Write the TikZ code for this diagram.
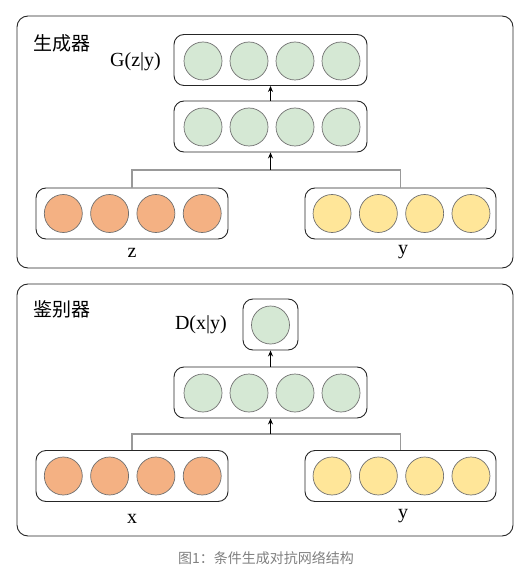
\documentclass[tikz,border=0pt]{standalone}
\usepackage{fontspec}
\setmainfont{Liberation Serif}
\newfontfamily\cjk{Noto Sans CJK SC}
\usetikzlibrary{arrows.meta}
\definecolor{gfill}{HTML}{D5E8D4}
\definecolor{ofill}{HTML}{F4B183}
\definecolor{yfill}{HTML}{FFE699}
\definecolor{cedge}{HTML}{707070}
\definecolor{capcol}{HTML}{808080}
\tikzset{
  outerbox/.style={draw=black!85, line width=0.9pt, rounded corners=11pt, minimum width=496pt, minimum height=252pt, inner sep=0pt},
  layerbox/.style={draw=black!85, line width=0.9pt, rounded corners=10pt, minimum height=51pt, inner sep=0pt},
  neuron/.style={circle, draw=cedge, line width=0.7pt, minimum size=38pt, inner sep=0pt},
  lbl/.style={font=\fontsize{20}{22}\selectfont, inner sep=0pt},
  ttl/.style={font=\cjk\fontsize{19}{21}\selectfont, inner sep=0pt, anchor=west},
  joinline/.style={draw=black!40, line width=1.2pt},
  arr/.style={draw=black, line width=0.9pt, -{Stealth[length=6pt,width=5pt]}},
}
\begin{document}
\begin{tikzpicture}[x=1pt,y=-1pt]
\useasboundingbox (0,0) rectangle (522,577);
% ---------- generator ----------
\node[outerbox] (genbox) at (265,142) {};
\node[ttl] (gentitle) at (33,43) {生成器};
\node[layerbox, minimum width=193pt] (gtop) at (270.5,60) {};
\node[layerbox, minimum width=193pt] (gmid) at (270.5,126.5) {};
\node[layerbox, minimum width=192pt] (gz) at (132,213.5) {};
\node[layerbox, minimum width=191pt] (gy) at (400.5,213.5) {};
\foreach \i in {1,...,4}{
  \node[neuron, fill=gfill] (gtop\i) at ({272+(\i-2.5)*46},61) {};
  \node[neuron, fill=gfill] (gmid\i) at ({272+(\i-2.5)*46},127) {};
  \node[neuron, fill=ofill] (gz\i) at ({132.75+(\i-2.5)*46.3},213.5) {};
  \node[neuron, fill=yfill] (gy\i) at ({401.5+(\i-2.5)*46.3},213.5) {};
}
\node[lbl, anchor=east] (glabel) at (161,62) {G(z|y)};
\node[lbl] (zlabel) at (132,253) {z};
\node[lbl] (ylabel1) at (403,252) {y};
\coordinate (gj) at (270.5,170);
\draw[joinline] (gz.north) |- (gj) -| (gy.north);
\draw[arr] (gj) -- (gmid.south);
\draw[arr] (gmid.north) -- (gtop.south);
% ---------- discriminator ----------
\node[outerbox] (disbox) at (265,410) {};
\node[ttl] (distitle) at (33,309) {鉴别器};
\node[layerbox, minimum width=55pt] (dtop) at (270.5,324.5) {};
\node[layerbox, minimum width=193pt] (dmid) at (270.5,392.5) {};
\node[layerbox, minimum width=192pt] (dx) at (132,476) {};
\node[layerbox, minimum width=191pt] (dy) at (400.5,476) {};
\node[neuron, fill=gfill] (dout) at (270.5,325) {};
\foreach \i in {1,...,4}{
  \node[neuron, fill=gfill] (dmid\i) at ({272+(\i-2.5)*46},393) {};
  \node[neuron, fill=ofill] (dx\i) at ({132.75+(\i-2.5)*46.3},476) {};
  \node[neuron, fill=yfill] (dy\i) at ({401.5+(\i-2.5)*46.3},476) {};
}
\node[lbl, anchor=east] (dlabel) at (227,325) {D(x|y)};
\node[lbl] (xlabel) at (132,519) {x};
\node[lbl] (ylabel2) at (403,516) {y};
\coordinate (dj) at (270.5,434);
\draw[joinline] (dx.north) |- (dj) -| (dy.north);
\draw[arr] (dj) -- (dmid.south);
\draw[arr] (dmid.north) -- (dtop.south);
% ---------- caption ----------
\node[font=\cjk\fontsize{14}{16}\selectfont, text=capcol, inner sep=0pt] (caption) at (266,558) {图1：条件生成对抗网络结构};
\end{tikzpicture}
\end{document}
